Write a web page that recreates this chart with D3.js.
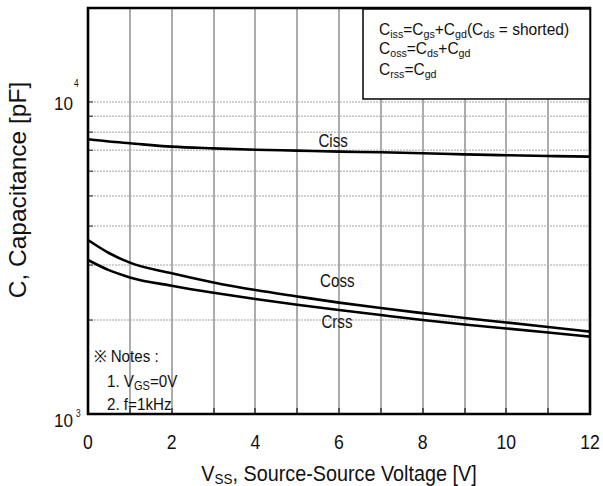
<!DOCTYPE html>
<html>
<head>
<meta charset="utf-8">
<script src="https://cdn.jsdelivr.net/npm/d3@7"></script>
<style>
body { margin: 0; background: #fff; }
svg text { font-family: "Liberation Sans", Arial, sans-serif; fill: #111; }
</style>
</head>
<body>
<svg width="603" height="486"></svg>
<script>
// drain-source voltage points [V] and capacitances [pF]
var volts = [0, 0.5, 1, 2, 3, 4, 5, 6, 7, 8, 9, 10, 11, 12];
var ciss = [7590, 7465, 7370, 7190, 7100, 7030, 6980, 6930, 6900, 6850, 6790, 6750, 6710, 6680];
var coss = [3610, 3280, 3055, 2825, 2640, 2495, 2380, 2275, 2185, 2105, 2030, 1965, 1900, 1836];
var crss = [3115, 2890, 2740, 2575, 2445, 2335, 2240, 2155, 2075, 2000, 1935, 1880, 1825, 1770];

var curveNames = ["Ciss", "Coss", "Crss"];
var labelV = [5.86, 5.96, 5.95];
var labelC = [7190, 2550, 1880];

var xTicks = [0, 2, 4, 6, 8, 10, 12];
var xGrid = [1, 2, 3, 4, 5, 6, 7, 8, 9, 10, 11];
var yGrid = [2000, 3000, 4000, 5000, 6000, 7000, 8000, 9000, 10000];
var yDecades = [1000, 10000];
var yExp = ["3", "4"];

// "_" marks a subscript piece
var legendLines = [
  ["C", "_iss", "=C", "_gs", "+C", "_gd", "(C", "_ds", " = shorted)"],
  ["C", "_oss", "=C", "_ds", "+C", "_gd"],
  ["C", "_rss", "=C", "_gd"]
];
var notes = [["\u203B Notes :"], ["1. V", "_GS", "=0V"], ["2. f=1kHz"]];
var xTitle = ["V", "_SS", ", Source-Source Voltage [V]"];
var yTitle = "C, Capacitance [pF]";

var narrow = 0.84;

var svg = d3.select("svg");
var xs = d3.scaleLinear().domain([0, 12]).range([88, 590]);
var ys = d3.scaleLog().domain([1000, 20000]).range([414, 8]);
var yTop = ys(20000), yBot = ys(1000), xL = xs(0), xR = xs(12);

function rich(g, parts, size, subSize, drop) {
  var t = g.append("text").style("font-size", size + "px");
  var down = false;
  parts.forEach(function(p) {
    var sub = p[0] === "_";
    var s = t.append("tspan").text(sub ? p.slice(1) : p);
    if (sub) { s.style("font-size", subSize + "px").attr("dy", drop); down = true; }
    else if (down) { s.attr("dy", -drop); down = false; }
  });
  return t;
}

// horizontal minor grid
svg.append("g").selectAll("line").data(yGrid).enter().append("line")
  .attr("x1", xL).attr("x2", xR)
  .attr("y1", function(d) { return ys(d); }).attr("y2", function(d) { return ys(d); })
  .attr("stroke", "#c4c4c4").attr("stroke-width", 1.5).attr("stroke-dasharray", "2,1");

// vertical grid, pixel aligned
svg.append("g").attr("shape-rendering", "crispEdges")
  .selectAll("line").data(xGrid).enter().append("line")
  .attr("x1", function(d) { return Math.round(xs(d)); })
  .attr("x2", function(d) { return Math.round(xs(d)); })
  .attr("y1", Math.round(yTop)).attr("y2", Math.round(yBot))
  .attr("stroke", "#acacac").attr("stroke-width", 2);

// short dark inward ticks
svg.append("g").attr("shape-rendering", "crispEdges")
  .selectAll("line").data(xGrid).enter().append("line")
  .attr("x1", function(d) { return Math.round(xs(d)); })
  .attr("x2", function(d) { return Math.round(xs(d)); })
  .attr("y1", yBot).attr("y2", yBot - 6)
  .attr("stroke", "#555").attr("stroke-width", 2);
svg.append("g").selectAll("line").data(yGrid).enter().append("line")
  .attr("x1", xL).attr("x2", xL + 5)
  .attr("y1", function(d) { return ys(d); }).attr("y2", function(d) { return ys(d); })
  .attr("stroke", "#444").attr("stroke-width", 1.2);

// curves
var curve = d3.line()
  .x(function(d, i) { return xs(volts[i]); })
  .y(function(d) { return ys(d); })
  .curve(d3.curveMonotoneX);

svg.append("g").selectAll("path").data([ciss, coss, crss]).enter().append("path")
  .attr("d", curve)
  .attr("fill", "none").attr("stroke", "#000").attr("stroke-width", 2.6);

// curve names
curveNames.forEach(function(n, i) {
  svg.append("g").attr("transform", "translate(" + xs(labelV[i]) + "," + ys(labelC[i]) + ") scale(" + narrow + ",1)")
    .append("text").attr("text-anchor", "middle").style("font-size", "18px").text(n);
});

// frame
svg.append("path")
  .attr("d", "M" + xL + "," + yTop + "H" + xR + "V" + yBot + "H" + xL + "Z")
  .attr("fill", "none").attr("stroke", "#000").attr("stroke-width", 2.6);

// legend box, anchored to the top right corner of the plot
var lg = svg.append("g").attr("transform", "translate(" + (xR - 227) + "," + (yTop + 1) + ")");
lg.append("rect").attr("width", 227).attr("height", 90)
  .attr("fill", "#fff").attr("stroke", "#000").attr("stroke-width", 1.5);
legendLines.forEach(function(parts, i) {
  var g = lg.append("g").attr("transform", "translate(16," + [26, 45, 66][i] + ") scale(0.97,1)");
  rich(g, parts, 16, 11, 2.5);
});

// notes
notes.forEach(function(parts, i) {
  var g = svg.append("g").attr("transform", "translate(" + (i ? 107 : 94) + "," + [362, 387, 410][i] + ") scale(0.92,1)");
  rich(g, parts, 16.5, 12, 3);
});

// x tick labels
svg.append("g").selectAll("g").data(xTicks).enter().append("g")
  .attr("transform", function(d) { return "translate(" + xs(d) + "," + (yBot + 35) + ") scale(" + narrow + ",1)"; })
  .append("text").attr("text-anchor", "middle").style("font-size", "21px")
  .text(function(d) { return d; });

// y tick labels 10^3, 10^4
yDecades.forEach(function(d, i) {
  var base = d === 1000 ? 13 : 8;
  var sup = d === 1000 ? 3 : -15;
  svg.append("g").attr("transform", "translate(73," + (ys(d) + base) + ") scale(0.9,1)")
    .append("text").attr("text-anchor", "end").style("font-size", "19px").text("10");
  svg.append("g").attr("transform", "translate(" + (d === 1000 ? 76 : 74) + "," + (ys(d) + sup) + ") scale(" + narrow + ",1)")
    .append("text").style("font-size", "10px").text(yExp[i]);
});

// axis titles
var xt = svg.append("g").attr("transform", "translate(" + ((xL + xR) / 2) + ",481) scale(0.9,1)");
rich(xt, xTitle, 22, 15, 3).attr("text-anchor", "middle");

svg.append("text")
  .attr("transform", "translate(26,190) rotate(-90)")
  .attr("text-anchor", "middle").style("font-size", "24.5px")
  .text(yTitle);
</script>
</body>
</html>
